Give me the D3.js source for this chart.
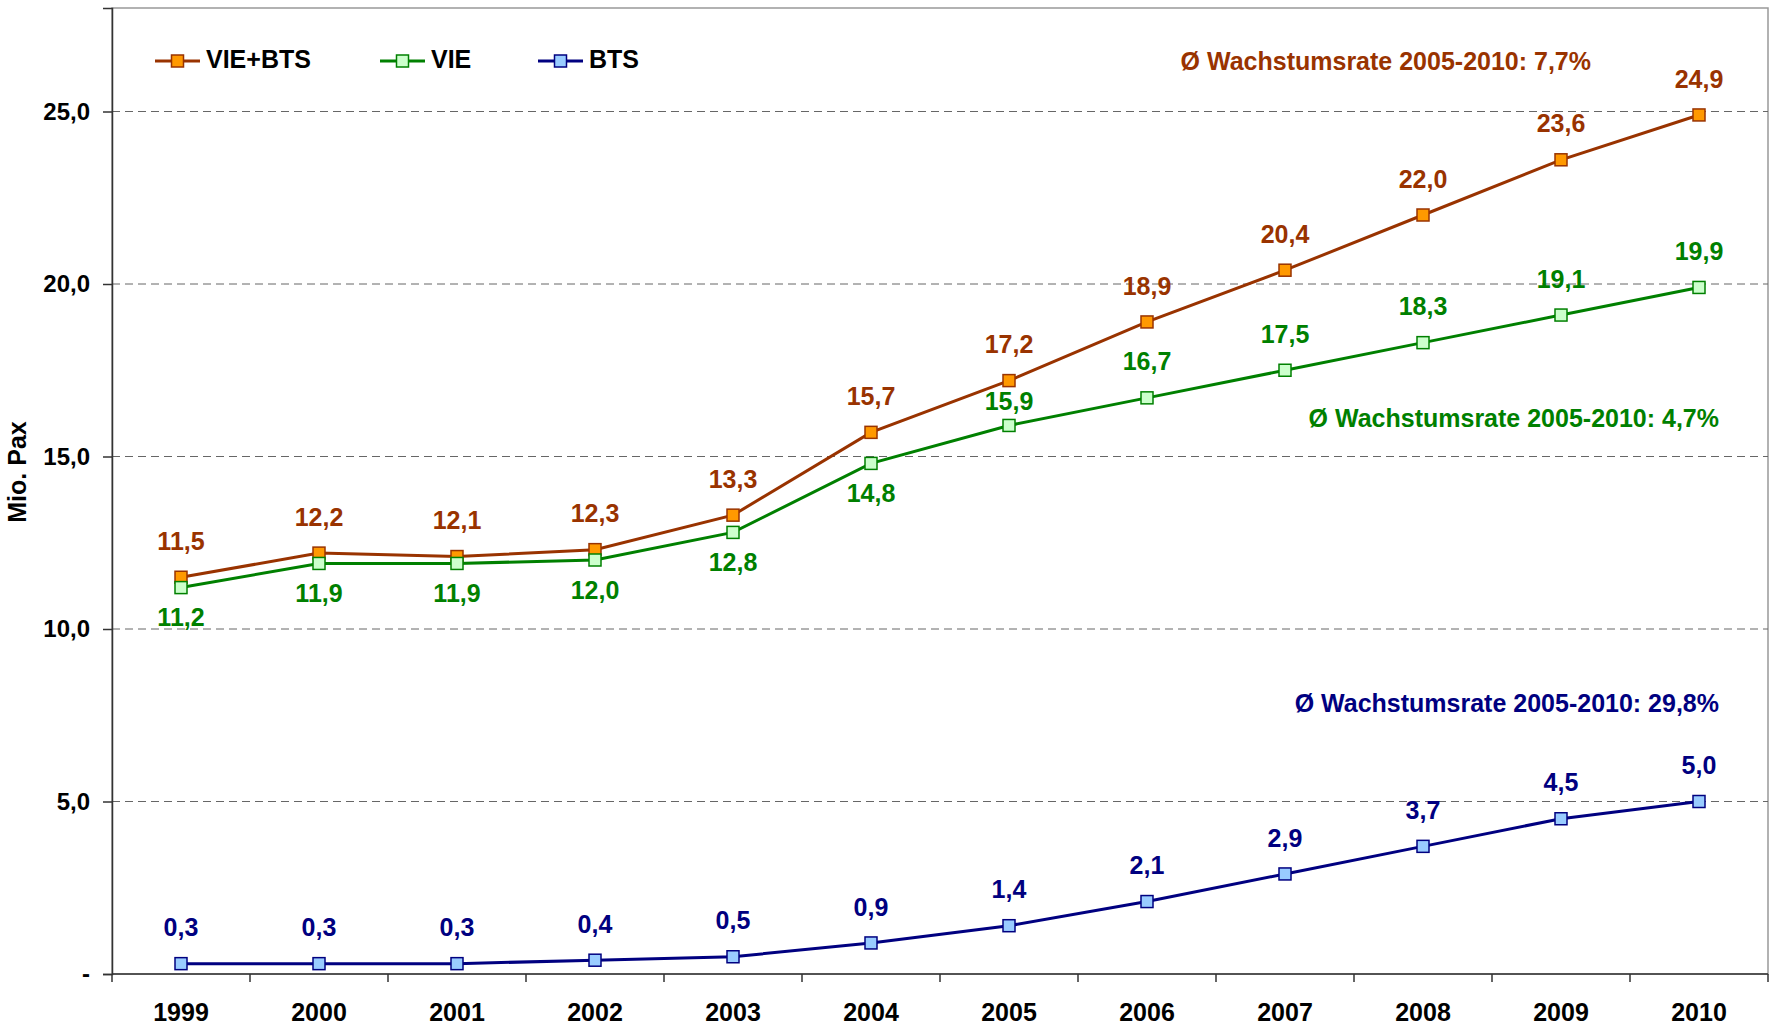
<!DOCTYPE html>
<html>
<head>
<meta charset="utf-8">
<script src="https://cdn.jsdelivr.net/npm/d3@7"></script>
<style>
  body { margin: 0; background: #fff; }
  text { font-family: "Liberation Sans", Arial, sans-serif; font-weight: bold; }
</style>
</head>
<body>
<div id="chart"></div>
<script>
// data
var years = ["1999", "2000", "2001", "2002", "2003", "2004", "2005", "2006", "2007", "2008", "2009", "2010"];
var vieBts = [11.5, 12.2, 12.1, 12.3, 13.3, 15.7, 17.2, 18.9, 20.4, 22.0, 23.6, 24.9];
var vie = [11.2, 11.9, 11.9, 12.0, 12.8, 14.8, 15.9, 16.7, 17.5, 18.3, 19.1, 19.9];
var bts = [0.3, 0.3, 0.3, 0.4, 0.5, 0.9, 1.4, 2.1, 2.9, 3.7, 4.5, 5.0];
var yTicks = [0, 5, 10, 15, 20, 25];
var seriesNames = ["VIE+BTS", "VIE", "BTS"];
var rateTexts = ["Ø Wachstumsrate 2005-2010: 7,7%", "Ø Wachstumsrate 2005-2010: 4,7%", "Ø Wachstumsrate 2005-2010: 29,8%"];

var W = 1772, H = 1026;
var margin = {top: 8, right: 4, bottom: 52, left: 112};
var width = W - margin.left - margin.right,
    height = H - margin.top - margin.bottom;
var fs = "25px";

var svg = d3.select("#chart")
  .append("svg")
  .attr("width", W)
  .attr("height", H)
  .append("g")
  .attr("transform", "translate(" + margin.left + "," + margin.top + ")");

var x = d3.scaleBand().domain(years).range([0, width]);
var y = d3.scaleLinear().domain([0, 28]).range([height, 0]);
var fmt = function(v) { return d3.format(".1f")(v).replace(".", ","); };

// plot frame
svg.append("rect")
  .attr("width", width).attr("height", height)
  .attr("fill", "none").attr("stroke", "#999").attr("stroke-width", 1.5);

// grid lines
svg.selectAll(".grid")
  .data(yTicks.filter(function(d) { return d > 0; }))
  .enter().append("line")
  .attr("x1", 0).attr("x2", width)
  .attr("y1", function(d) { return y(d); })
  .attr("y2", function(d) { return y(d); })
  .attr("stroke", "#666")
  .attr("stroke-width", 1)
  .attr("stroke-dasharray", "8,5");

// y axis
var yAxis = d3.axisLeft(y).tickValues(yTicks).tickSize(9).tickPadding(13)
  .tickFormat(function(d) { return d === 0 ? "-" : fmt(d); });
var gy = svg.append("g").call(yAxis);
gy.select(".domain").attr("stroke", "#333").attr("stroke-width", 1.5);
gy.selectAll(".tick line").attr("stroke", "#333").attr("stroke-width", 1.5);
gy.selectAll("text").style("font-size", "24px").attr("fill", "#000")
  .style("font-family", "'Liberation Sans', Arial, sans-serif").style("font-weight", "bold");

// x axis (ticks between categories)
svg.append("line")
  .attr("x1", 0).attr("x2", width).attr("y1", height).attr("y2", height)
  .attr("stroke", "#333").attr("stroke-width", 1.5);
svg.selectAll(".xtick")
  .data(years.concat(["end"]))
  .enter().append("line")
  .attr("x1", function(d, i) { return i * x.step(); })
  .attr("x2", function(d, i) { return i * x.step(); })
  .attr("y1", height).attr("y2", height + 8)
  .attr("stroke", "#333").attr("stroke-width", 1.5);
svg.selectAll(".xlabel")
  .data(years)
  .enter().append("text")
  .attr("x", function(d) { return x(d) + x.bandwidth() / 2; })
  .attr("y", height + 47)
  .attr("text-anchor", "middle")
  .style("font-size", fs)
  .text(function(d) { return d; });

// y axis title
svg.append("text")
  .attr("transform", "translate(" + (19 - margin.left) + "," + (472 - margin.top) + ") rotate(-90)")
  .attr("text-anchor", "middle")
  .attr("dominant-baseline", "middle")
  .style("font-size", fs)
  .text("Mio. Pax");

var series = [
  {name: seriesNames[0], values: vieBts, line: "#993300", fill: "#FF9900", below: [], nudge: {}},
  {name: seriesNames[1], values: vie, line: "#008000", fill: "#CCFFCC",
   below: ["1999", "2000", "2001", "2002", "2003", "2004"], nudge: {"2005": 12}},
  {name: seriesNames[2], values: bts, line: "#000080", fill: "#99CCFF", below: [], nudge: {}}
];

var cx = function(d, i) { return x(years[i]) + x.bandwidth() / 2; };
var line = d3.line().x(cx).y(function(d) { return y(d); });

series.forEach(function(s) {
  svg.append("path")
    .datum(s.values)
    .attr("fill", "none")
    .attr("stroke", s.line)
    .attr("stroke-width", 3)
    .attr("d", line);

  svg.selectAll(null)
    .data(s.values)
    .enter().append("rect")
    .attr("x", function(d, i) { return cx(d, i) - 6; })
    .attr("y", function(d) { return y(d) - 6; })
    .attr("width", 12).attr("height", 12)
    .attr("fill", s.fill)
    .attr("stroke", s.line)
    .attr("stroke-width", 1.5);

  svg.selectAll(null)
    .data(s.values)
    .enter().append("text")
    .attr("x", cx)
    .attr("y", function(d, i) {
      var base = s.below.indexOf(years[i]) >= 0 ? y(d) + 32 : y(d) - 34;
      return base + (s.nudge[years[i]] || 0);
    })
    .attr("text-anchor", "middle")
    .attr("dominant-baseline", "middle")
    .attr("fill", s.line)
    .style("font-size", fs)
    .text(fmt);
});

// legend
var legendX = [155, 380, 538];
series.forEach(function(s, i) {
  var g = svg.append("g")
    .attr("transform", "translate(" + (legendX[i] - margin.left) + "," + (61 - margin.top) + ")");
  g.append("line").attr("x1", 0).attr("x2", 45)
    .attr("stroke", s.line).attr("stroke-width", 3);
  g.append("rect").attr("x", 16.5).attr("y", -6).attr("width", 12).attr("height", 12)
    .attr("fill", s.fill).attr("stroke", s.line).attr("stroke-width", 1.5);
  g.append("text").attr("x", 51).attr("dominant-baseline", "middle")
    .style("font-size", fs).attr("fill", "#000").text(s.name);
});

// growth rate notes
var notePos = [[1591, 26.4], [1719, 16.05], [1719, 7.78]];
series.forEach(function(s, i) {
  svg.append("text")
    .attr("x", notePos[i][0] - margin.left)
    .attr("y", y(notePos[i][1]))
    .attr("text-anchor", "end")
    .attr("dominant-baseline", "middle")
    .attr("fill", s.line)
    .style("font-size", fs)
    .text(rateTexts[i]);
});
</script>
</body>
</html>
